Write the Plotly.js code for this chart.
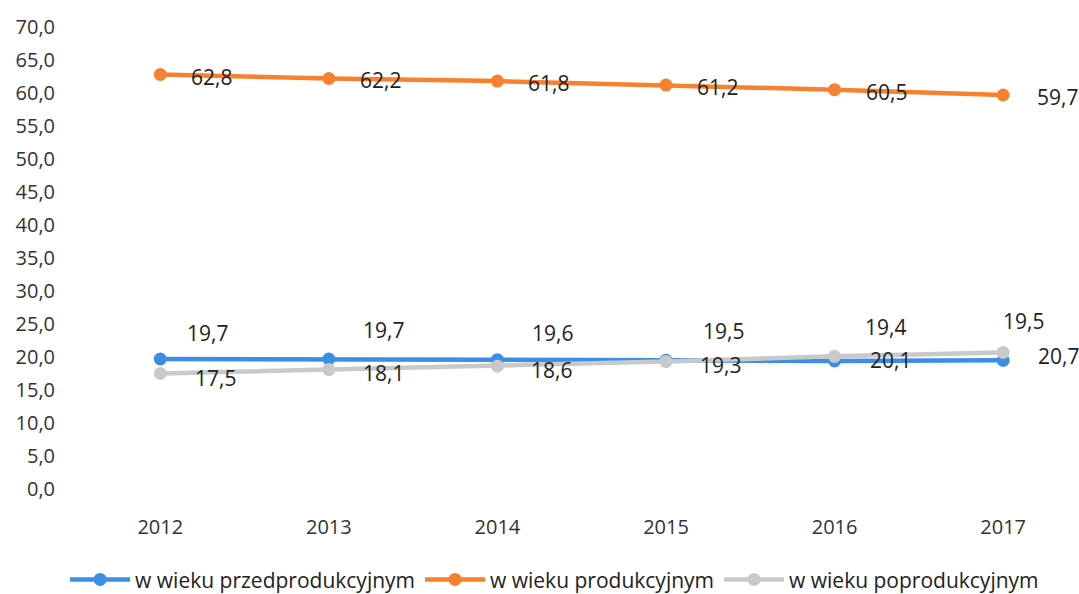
<!DOCTYPE html>
<html>
<head>
<meta charset="utf-8">
<script src="https://cdn.plot.ly/plotly-3.0.1.min.js"></script>
<style>html,body{margin:0;padding:0;background:#fff;}#chart{width:1079px;height:594px;}</style>
</head>
<body>
<div id="chart"></div>
<script>
var years = ['2012', '2013', '2014', '2015', '2016', '2017'];
var przedprodukcyjny = [19.7, 19.7, 19.6, 19.5, 19.4, 19.5];
var produkcyjny = [62.8, 62.2, 61.8, 61.2, 60.5, 59.7];
var poprodukcyjny = [17.5, 18.1, 18.6, 19.3, 20.1, 20.7];
var seriesNames = ['w wieku przedprodukcyjnym', 'w wieku produkcyjnym', 'w wieku poprodukcyjnym'];
var yTicks = [0, 5, 10, 15, 20, 25, 30, 35, 40, 45, 50, 55, 60, 65, 70];

var FONT = '"Open Sans", "Noto Sans", sans-serif';
var colors = ['#3b8de6', '#f7812f', '#c9c9c9'];
var xIdx = years.map(function (_, i) { return i; });

function trace(vals, name, color) {
  return {
    x: xIdx, y: vals, name: name, type: 'scatter', mode: 'lines+markers',
    line: { color: color, width: 4.5 },
    marker: { color: color, size: 13 },
    hoverinfo: 'skip'
  };
}

var data = [
  trace(przedprodukcyjny, seriesNames[0], colors[0]),
  trace(produkcyjny, seriesNames[1], colors[1]),
  trace(poprodukcyjny, seriesNames[2], colors[2])
];

function fmt(v) { return v.toFixed(1).replace('.', ','); }

// label offsets (pixels) per series / point
var blueShiftX = [25, 32, 33, 35, 28, -2];
var blueShiftY = [26, 29, 27, 29, 34, 39];
var greyShiftX = [33, 32, 32, 32, 33, 33];
var greyShiftY = [-4, -3, -4, -3, -4, -4];

var annotations = [];
function lbl(x, v, dx, dy) {
  annotations.push({
    x: x, y: v, xref: 'x', yref: 'y', text: fmt(v), showarrow: false,
    xanchor: 'left', yanchor: 'middle', xshift: dx, yshift: dy,
    font: { family: FONT, size: 21, color: '#222' }
  });
}
przedprodukcyjny.forEach(function (v, i) { lbl(i, v, blueShiftX[i], blueShiftY[i]); });
produkcyjny.forEach(function (v, i) { lbl(i, v, i === 5 ? 32 : 29, -2); });
poprodukcyjny.forEach(function (v, i) { lbl(i, v, greyShiftX[i], greyShiftY[i]); });

var layout = {
  width: 1079, height: 594,
  margin: { l: 76, r: 0, t: 27, b: 105, autoexpand: false },
  paper_bgcolor: '#fff', plot_bgcolor: '#fff',
  separators: ', ',
  showlegend: true,
  legend: {
    orientation: 'h', x: 0.514, xanchor: 'center', xref: 'container',
    y: 0.024, yanchor: 'middle', yref: 'container',
    font: { family: FONT, size: 21, color: '#222' },
    itemwidth: 60, tracegroupgap: 0, traceorder: 'normal'
  },
  xaxis: {
    range: [-0.5, 5.45], tickmode: 'array', tickvals: xIdx, ticktext: years,
    showgrid: false, zeroline: false, showline: false, ticks: '', automargin: false,
    tickfont: { family: FONT, size: 20, color: '#333' }, ticklabelstandoff: 24
  },
  yaxis: {
    range: [0, 70], tickmode: 'array', tickvals: yTicks, tickformat: '.1f',
    showgrid: false, zeroline: false, showline: false, ticks: '', automargin: false,
    tickfont: { family: FONT, size: 20, color: '#333' }, ticklabelstandoff: 20
  },
  annotations: annotations
};

Plotly.newPlot('chart', data, layout, { staticPlot: true, displayModeBar: false });
</script>
</body>
</html>
